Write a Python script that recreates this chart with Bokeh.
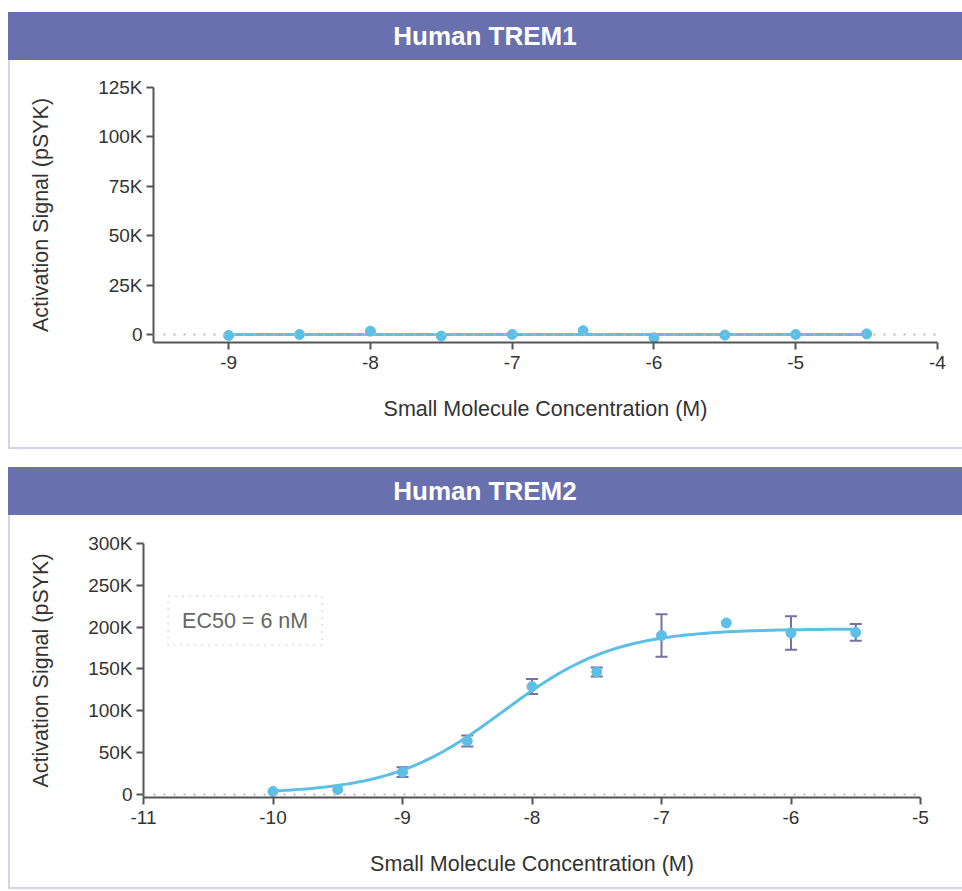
import math
from bokeh.plotting import figure
from bokeh.models import (Range1d, FixedTicker, Span, Whisker, TeeHead, ColumnDataSource,
                          BoxAnnotation, Label, Div)
from bokeh.layouts import column
from bokeh.embed import file_html
from bokeh.resources import INLINE

# ---------------- data ----------------
# Human TREM1 (no activation)
trem1_x = [-9, -8.5, -8, -7.5, -7, -6.5, -6, -5.5, -5, -4.5]
trem1_y = [-500, 0, 1700, -800, 0, 1900, -1700, -300, 0, 300]
trem1_fit_level = 0
trem1_xticks = [-9, -8, -7, -6, -5, -4]
trem1_xlabels = ["-9", "-8", "-7", "-6", "-5", "-4"]
trem1_yticks = [0, 25000, 50000, 75000, 100000, 125000]
trem1_ylabels = ["0", "25K", "50K", "75K", "100K", "125K"]

# Human TREM2
trem2_x = [-10, -9.5, -9, -8.5, -8, -7.5, -7, -6.5, -6, -5.5]
trem2_y = [3600, 6000, 26700, 64000, 129000, 146500, 190000, 205000, 193000, 193700]
trem2_err = [0, 0, 5800, 6600, 9000, 5400, 25500, 0, 20000, 10000]
trem2_xticks = [-11, -10, -9, -8, -7, -6, -5]
trem2_xlabels = ["-11", "-10", "-9", "-8", "-7", "-6", "-5"]
trem2_yticks = [0, 50000, 100000, 150000, 200000, 250000, 300000]
trem2_ylabels = ["0", "50K", "100K", "150K", "200K", "250K", "300K"]
# 4-parameter logistic fit (EC50 = 6 nM)
fit_bottom, fit_top, fit_hill, fit_ec50_M = 1000, 198000, 1.0, 6e-9
ec50_text = "EC50 = 6 nM"

FONT = "Liberation Sans"
HEADER = "#6870AE"
BORDER = "#D3D5EC"
BLUE = "#5DBFE6"
ERR = "#7471A6"
AXIS = "#555555"
TXT = "#333333"
FIG_W = 952


def header(title, top):
    return Div(text=f'<div style="width:954px;height:48px;line-height:48px;text-align:center;'
                    f'color:white;font-family:\'{FONT}\';font-weight:bold;font-size:26px;">{title}</div>',
               width=954, height=48, margin=(top, 0, 0, 8),
               styles={"background-color": HEADER})


def make_fig(height, xr, yr, xticks, xlabels, yticks, ylabels, left, top, right, bottom, ystandoff):
    p = figure(width=FIG_W, height=height, x_range=Range1d(*xr), y_range=Range1d(*yr),
               output_backend="svg", toolbar_location=None,
               min_border_left=left, min_border_top=top, min_border_right=right,
               min_border_bottom=bottom)
    p.outline_line_color = None
    p.grid.visible = False
    for ax in (p.xaxis[0], p.yaxis[0]):
        ax.axis_line_color = AXIS
        ax.axis_line_width = 2
        ax.major_tick_line_color = AXIS
        ax.major_tick_line_width = 2
        ax.major_tick_out = 7
        ax.major_tick_in = 0
        ax.minor_tick_line_color = None
        ax.major_label_text_font = FONT
        ax.major_label_text_font_size = "19px"
        ax.major_label_text_color = TXT
        ax.axis_label_text_font = FONT
        ax.axis_label_text_font_size = "21.5px"
        ax.axis_label_text_font_style = "normal"
        ax.axis_label_text_color = TXT
    p.xaxis.ticker = FixedTicker(ticks=xticks)
    p.yaxis.ticker = FixedTicker(ticks=yticks)
    p.xaxis.major_label_overrides = {t: l for t, l in zip(xticks, xlabels)}
    p.yaxis.major_label_overrides = {t: l for t, l in zip(yticks, ylabels)}
    p.xaxis.axis_label = "Small Molecule Concentration (M)"
    p.yaxis.axis_label = "Activation Signal (pSYK)"
    p.xaxis.major_label_standoff = 6
    p.yaxis.major_label_standoff = 4
    p.xaxis.axis_label_standoff = 25
    p.yaxis.axis_label_standoff = ystandoff
    p.add_layout(Span(location=0, dimension="width", line_color="#BBBBBB",
                      line_width=2, line_dash="2 8"))
    return p


def panel(p):
    return column(p, margin=(0, 0, 0, 8),
                  styles={"border-left": f"2px solid {BORDER}",
                          "border-bottom": f"2px solid {BORDER}"})


# ---------- TREM1 ----------
p1 = make_fig(387, (-9.53, -4.0), (-4050, 125000), trem1_xticks, trem1_xlabels,
              trem1_yticks, trem1_ylabels, 143, 27, 25, 105, 42)
p1.line([min(trem1_x), max(trem1_x)], [trem1_fit_level, trem1_fit_level],
        line_color=BLUE, line_width=3)
p1.scatter(trem1_x, trem1_y, size=10, color=BLUE)

# ---------- TREM2 ----------
p2 = make_fig(372, (-11.0, -5.0), (-3600, 300000), trem2_xticks, trem2_xlabels,
              trem2_yticks, trem2_ylabels, 133, 28, 42, 90, 32)
log_ec50 = math.log10(fit_ec50_M)
n_curve = 200
cx = [min(trem2_x) + (max(trem2_x) - min(trem2_x)) * i / (n_curve - 1) for i in range(n_curve)]
cy = [fit_bottom + (fit_top - fit_bottom) / (1 + 10 ** ((log_ec50 - x) * fit_hill)) for x in cx]
p2.line(cx, cy, line_color=BLUE, line_width=3)

ex = [x for x, e in zip(trem2_x, trem2_err) if e > 0]
ey = [y for y, e in zip(trem2_y, trem2_err) if e > 0]
ee = [e for e in trem2_err if e > 0]
esrc = ColumnDataSource(dict(x=ex, upper=[y + e for y, e in zip(ey, ee)],
                             lower=[y - e for y, e in zip(ey, ee)]))
w = Whisker(base="x", upper="upper", lower="lower", source=esrc, level="underlay",
            line_color=ERR, line_width=2,
            upper_head=TeeHead(size=12, line_color=ERR, line_width=2),
            lower_head=TeeHead(size=12, line_color=ERR, line_width=2))
p2.add_layout(w)
p2.scatter(trem2_x, trem2_y, size=10, color=BLUE)

p2.add_layout(BoxAnnotation(left=-10.81, right=-9.62, bottom=178400, top=237000,
                            fill_color=None, line_color="#AAAAAA", line_width=2,
                            line_dash="2 5"))
p2.add_layout(Label(x=-10.215, y=207700, text=ec50_text, text_align="center",
                    text_baseline="middle", text_font=FONT, text_font_size="21.5px",
                    text_color="#666666"))

layout = column(header("Human TREM1", 12), panel(p1),
                header("Human TREM2", 18), panel(p2), spacing=0)

open("out.html", "w").write(file_html(layout, INLINE))
